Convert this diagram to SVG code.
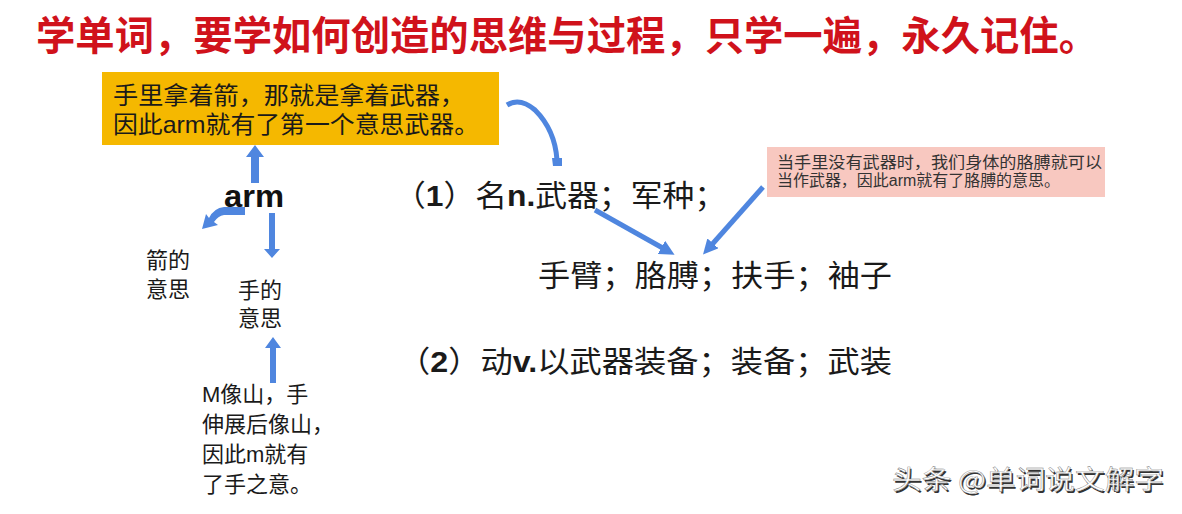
<svg xmlns="http://www.w3.org/2000/svg" width="1182" height="514" viewBox="0 0 1182 514">
<defs>
<style>
.cjk{font-family:"Noto Sans CJK SC","Noto Sans",sans-serif;}
.cjl{font-family:"Liberation Sans","Noto Sans CJK SC",sans-serif;}
.lat{font-family:"Liberation Sans",Arial,sans-serif;font-weight:700;}
.title{font-size:40px;font-weight:700;fill:#d0121b;}
.dark{fill:#1a1a1a;}
.blue{stroke:#4f86df;fill:none;}
.bluef{fill:#4f86df;}
</style>
<marker id="ah" viewBox="0 0 10 10" refX="5" refY="5" markerWidth="3" markerHeight="3" orient="auto">
<path d="M0,0 L10,5 L0,10 z" fill="#4f86df"/>
</marker>
</defs>
<rect width="1182" height="514" fill="#ffffff"/>

<g id="title">
<text class="cjk title" x="36" y="50" textLength="1062" lengthAdjust="spacingAndGlyphs">学单词，要学如何创造的思维与过程，只学一遍，永久记住。</text>
</g>

<g id="node-weapon-box">
<rect x="102" y="72" width="397" height="73" fill="#f5b800"/>
<text class="cjl dark" font-size="24"><tspan x="113" y="104" textLength="352" lengthAdjust="spacingAndGlyphs">手里拿着箭，那就是拿着武器，</tspan><tspan x="113" y="133" textLength="366" lengthAdjust="spacingAndGlyphs">因此arm就有了第一个意思武器。</tspan></text>
</g>

<g id="node-arm">
<text x="224" y="207" font-family="Liberation Sans, Arial, sans-serif" font-weight="700" font-size="32" fill="#111" textLength="60" lengthAdjust="spacingAndGlyphs">arm</text>
</g>

<g id="node-arrow-meaning">
<text class="cjl dark" font-size="22"><tspan x="146" y="268">箭的</tspan><tspan x="146" y="297">意思</tspan></text>
</g>

<g id="node-hand-meaning">
<text class="cjl dark" font-size="22"><tspan x="238" y="298">手的</tspan><tspan x="238" y="326">意思</tspan></text>
</g>

<g id="node-m-note">
<text class="cjl dark" font-size="22"><tspan x="202" y="402">M像山，手</tspan><tspan x="202" y="432">伸展后像山，</tspan><tspan x="202" y="462">因此m就有</tspan><tspan x="202" y="492">了手之意。</tspan></text>
</g>

<g id="node-sense1">
<text class="cjk dark" font-size="30" x="394" y="206" textLength="332" lengthAdjust="spacingAndGlyphs">（<tspan class="lat">1</tspan>）名<tspan class="lat">n.</tspan>武器；军种；</text>
</g>

<g id="node-sense1b">
<text class="cjk dark" font-size="30" x="538" y="286" textLength="354" lengthAdjust="spacingAndGlyphs">手臂；胳膊；扶手；袖子</text>
</g>

<g id="node-sense2">
<text class="cjk dark" font-size="30" x="398" y="372" textLength="494" lengthAdjust="spacingAndGlyphs">（<tspan class="lat">2</tspan>）动<tspan class="lat">v.</tspan>以武器装备；装备；武装</text>
</g>

<g id="node-pink-note">
<rect x="767" y="147" width="338" height="50" fill="#f8c8c0"/>
<text class="cjl" fill="#333" font-size="16"><tspan x="777" y="167.5" textLength="325" lengthAdjust="spacingAndGlyphs">当手里没有武器时，我们身体的胳膊就可以</tspan><tspan x="777" y="186" textLength="283" lengthAdjust="spacingAndGlyphs">当作武器，因此arm就有了胳膊的意思。</tspan></text>
</g>

<g id="connectors">
<path class="bluef" d="M251,183 L251,157 L246,157 L255,145 L264,157 L259,157 L259,183 Z"/>
<path class="bluef" d="M245,207 L245,215 L224,215 Q218,216 214,222 L218,225 L202,229 L206,214 L209,218 Q214,208 224,207 Z"/>
<path class="bluef" d="M269,213 L275,213 L275,249 L280,249 L272,258 L264,249 L269,249 Z"/>
<path class="bluef" d="M270,383 L276,383 L276,348 L281,348 L273,337 L265,348 L270,348 Z"/>
<path class="blue" stroke-width="5" d="M507,105 Q520,97 535,110 Q555,130 557,160"/>
<path class="bluef" d="M552,158 L562,158 L562,166 L553,166 Z"/>
<line class="blue" stroke-width="5" x1="595" y1="210" x2="668" y2="251" marker-end="url(#ah)"/>
<line class="blue" stroke-width="5" x1="763" y1="187" x2="708" y2="249" marker-end="url(#ah)"/>
</g>

<g id="watermark">
<text class="cjk" font-size="26" x="893.5" y="490.5" fill="#333" textLength="272" lengthAdjust="spacingAndGlyphs">头条 @单词说文解字</text>
<text class="cjk" font-size="26" x="892" y="489" fill="#ffffff" stroke="#777" stroke-width="0.4" textLength="272" lengthAdjust="spacingAndGlyphs">头条 @单词说文解字</text>
</g>
</svg>
